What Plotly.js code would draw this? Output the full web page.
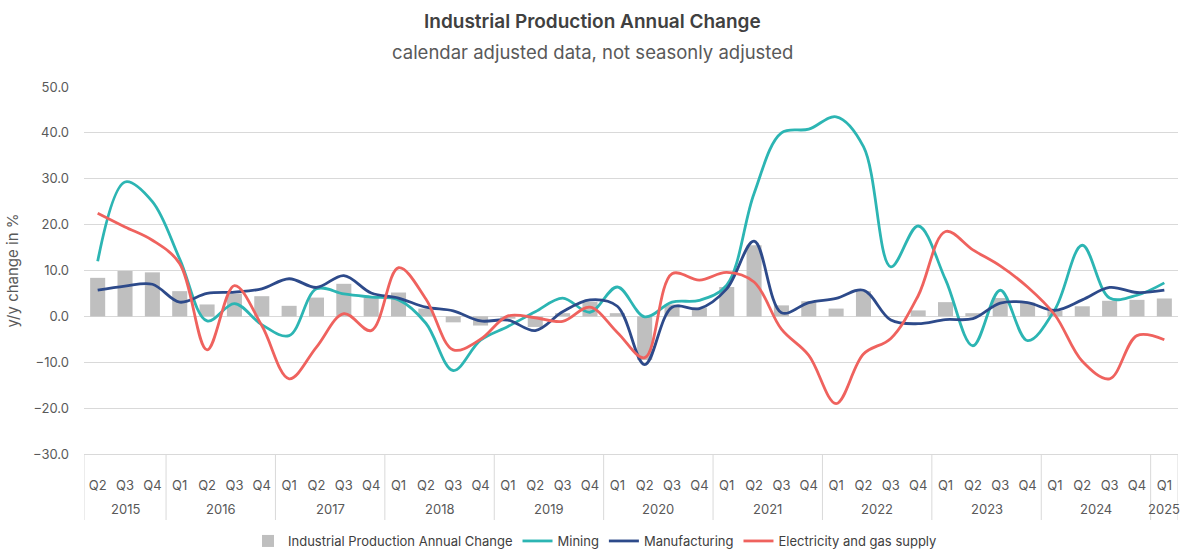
<!DOCTYPE html>
<html>
<head>
<meta charset="utf-8">
<script src="https://cdn.plot.ly/plotly-3.0.1.min.js"></script>
<style>
html,body{margin:0;padding:0;background:#fff;}
#chart{width:1185px;height:549px;}
</style>
</head>
<body>
<div id="chart"></div>
<script>
const years = ["2015","2015","2015",
  "2016","2016","2016","2016",
  "2017","2017","2017","2017",
  "2018","2018","2018","2018",
  "2019","2019","2019","2019",
  "2020","2020","2020","2020",
  "2021","2021","2021","2021",
  "2022","2022","2022","2022",
  "2023","2023","2023","2023",
  "2024","2024","2024","2024",
  "2025"];
const quarters = ["Q2","Q3","Q4",
  "Q1","Q2","Q3","Q4",
  "Q1","Q2","Q3","Q4",
  "Q1","Q2","Q3","Q4",
  "Q1","Q2","Q3","Q4",
  "Q1","Q2","Q3","Q4",
  "Q1","Q2","Q3","Q4",
  "Q1","Q2","Q3","Q4",
  "Q1","Q2","Q3","Q4",
  "Q1","Q2","Q3","Q4",
  "Q1"];

const industrialProduction = [8.4,9.9,9.6,5.5,2.6,5.0,4.4,2.3,4.1,7.1,4.0,5.2,1.7,-1.3,-2.0,-0.5,-2.3,0.7,3.2,0.7,
  -9.5,2.6,1.9,6.4,15.5,2.4,3.3,1.7,5.5,-0.1,1.3,3.1,0.7,4.0,3.0,1.2,2.2,3.4,3.6,3.9];
const mining = [12.0,29.3,25.0,12.5,-1.0,2.8,-1.8,-4.2,6.0,4.9,4.2,3.6,-1.5,-11.8,-5.2,-2.2,1.0,4.0,0.9,6.4,
  -0.1,3.1,3.5,6.8,26.8,40.0,40.8,43.5,37.0,10.8,19.7,8.0,-6.4,5.7,-5.3,1.5,15.5,4.0,4.6,7.3];
const manufacturing = [5.7,6.6,7.0,3.1,5.0,5.3,6.0,8.2,6.3,8.9,5.1,4.0,2.0,1.2,-1.0,-0.8,-3.1,1.0,3.6,2.2,
  -10.5,2.0,1.7,6.0,16.4,0.8,3.0,3.9,5.7,-0.8,-1.6,-0.7,-0.5,2.9,3.0,1.3,3.6,6.3,5.2,5.7];
const electricityGas = [22.5,19.5,16.6,11.5,-7.3,6.7,-2.0,-13.6,-6.7,0.6,-3.1,10.6,3.8,-7.3,-5.0,0.1,-0.3,-1.1,2.0,-3.5,
  -9.0,9.3,7.9,9.6,7.5,-2.8,-8.5,-19.0,-8.2,-4.8,4.5,18.5,14.5,11.0,6.4,0.3,-9.8,-13.6,-4.2,-5.1];

const yTicks = [-30,-20,-10,0,10,20,30,40,50];

// positions along the category axis (one slot per quarter)
const idx = quarters.map((q, i) => i);
const FONT = "Inter, 'Liberation Sans', Arial, sans-serif";
const GRID = '#d9d9d9';
const PLOT_TOP = 87, PLOT_BOTTOM = 454, PLOT_H = PLOT_BOTTOM - PLOT_TOP;
const py = px => (PLOT_BOTTOM - px) / PLOT_H;   // page pixel row -> paper fraction

// year groups -> centre labels and dividers
const groups = [];
years.forEach((y, i) => {
  const g = groups[groups.length - 1];
  if (g && g.year === y) { g.end = i; } else { groups.push({year: y, start: i, end: i}); }
});
const annotations = [
  {text:'Industrial Production Annual Change', xref:'paper', yref:'paper', x:(592-84)/1094, y:py(22),
   xanchor:'center', yanchor:'middle', showarrow:false, font:{family:FONT, size:19, color:'#404040', weight:600}},
  {text:'calendar adjusted data, not seasonly adjusted', xref:'paper', yref:'paper', x:(592-84)/1094, y:py(52),
   xanchor:'center', yanchor:'middle', showarrow:false, font:{family:FONT, size:18.5, color:'#595959'}}
];
const shapes = [];
groups.forEach((g, k) => {
  annotations.push({text:g.year, xref:'x', yref:'paper', x:(g.start + g.end)/2, y:py(509),
    xanchor:'center', yanchor:'middle', showarrow:false, font:{family:FONT, size:13, color:'#595959'}});
  shapes.push({type:'line', xref:'x', yref:'paper', x0:g.start-0.5, x1:g.start-0.5,
    y0:0, y1:py(520), line:{color:GRID, width:1}});
  if (k === groups.length - 1) {
    shapes.push({type:'line', xref:'x', yref:'paper', x0:g.end+0.5, x1:g.end+0.5,
      y0:0, y1:py(520), line:{color:GRID, width:1}});
  }
});

const traces = [
  {type:'bar', name:'Industrial Production Annual Change', x:idx, y:industrialProduction,
   marker:{color:'#bfbfbf'}, width:0.55},
  {type:'scatter', mode:'lines', name:'Mining', x:idx, y:mining,
   line:{color:'#2cb5b3', width:2.8, shape:'spline', smoothing:1}},
  {type:'scatter', mode:'lines', name:'Manufacturing', x:idx, y:manufacturing,
   line:{color:'#2d4a8a', width:2.8, shape:'spline', smoothing:1}},
  {type:'scatter', mode:'lines', name:'Electricity and gas supply', x:idx, y:electricityGas,
   line:{color:'#ef625e', width:2.8, shape:'spline', smoothing:1}}
];

const layout = {
  width:1185, height:549,
  margin:{l:84, r:7, t:PLOT_TOP, b:549-PLOT_BOTTOM, autoexpand:false},
  paper_bgcolor:'#ffffff', plot_bgcolor:'#ffffff',
  font:{family:FONT, color:'#595959', size:13},
  showlegend:true,
  legend:{orientation:'h', x:(595-84)/1094, xanchor:'center', y:py(541), yanchor:'middle',
          font:{size:13, color:'#404040'}, traceorder:'normal'},
  xaxis:{type:'linear', range:[-0.5, quarters.length - 0.5], tickvals:idx, ticktext:quarters,
         showgrid:false, showline:true, linecolor:GRID, linewidth:1, zeroline:false,
         ticks:'', ticklabelstandoff:19, tickfont:{size:13, color:'#595959'}, automargin:false, fixedrange:true},
  yaxis:{range:[-30,50], tickvals:yTicks, tickformat:'.1f', showgrid:true, gridcolor:GRID, gridwidth:1,
         zeroline:false, showline:false, ticks:'', automargin:false, ticklabelstandoff:14,
         tickfont:{size:13, color:'#595959'},
         title:{text:'y/y change in %', font:{size:15, color:'#595959'}, standoff:10}},
  annotations: annotations,
  shapes: shapes
};

Plotly.newPlot('chart', traces, layout, {displayModeBar:false, staticPlot:true});
</script>
</body>
</html>
